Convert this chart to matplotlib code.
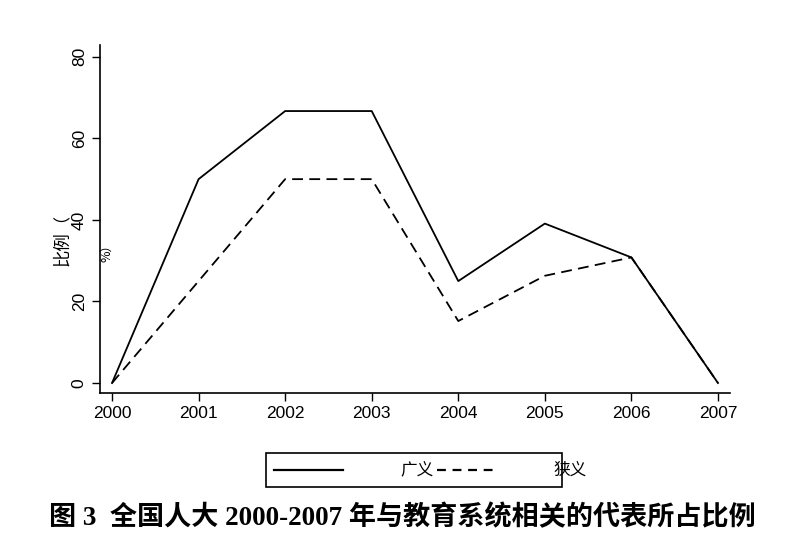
import matplotlib.pyplot as plt
from matplotlib.lines import Line2D
from matplotlib.patches import Rectangle

# 数据
years = [2000, 2001, 2002, 2003, 2004, 2005, 2006, 2007]
broad = [0, 50, 66.7, 66.7, 25, 39.1, 30.8, 0]      # 广义
narrow = [0, 25, 50, 50, 15.2, 26.3, 30.8, 0]       # 狭义
y_ticks = [0, 20, 40, 60, 80]

cjk = ['Noto Sans CJK SC', 'DejaVu Sans']
W, H = 804, 560

fig = plt.figure(figsize=(8.04, 5.6), dpi=100)
ax = fig.add_axes([100 / W, (H - 393) / H, 630 / W, 348 / H])

ax.plot(years, broad, color='black', linewidth=1.3)
ax.plot(years, narrow, color='black', linewidth=1.3, linestyle=(0, (6, 3.5)))

ax.set_xlim(1999.861, 2007.139)
ax.set_ylim(-2.45, 82.9)
ax.set_xticks(years)
ax.set_yticks(y_ticks)
ax.tick_params(axis='both', direction='out', length=6, width=1, labelsize=12.5)
for lab in ax.get_xticklabels():
    lab.set_family('Liberation Sans')
for lab in ax.get_yticklabels():
    lab.set_family('Liberation Sans')
    lab.set_rotation(90)
    lab.set_va('center')
for s in ['top', 'right']:
    ax.spines[s].set_visible(False)
for s in ['left', 'bottom']:
    ax.spines[s].set_linewidth(1.2)

# y 轴标题（原图中被拆成两段）
fig.text(62 / W, 1 - 240 / H, '比例（', rotation=90, ha='center', va='center',
         fontsize=12.5, family=cjk)
fig.text(107 / W, 1 - 250 / H, '%）', rotation=90, ha='center', va='center',
         fontsize=9, family=cjk)

# 图例（手工绘制）
fig.add_artist(Rectangle((266 / W, 1 - 487 / H), 296 / W, 34 / H, transform=fig.transFigure,
                         fill=False, edgecolor='black', linewidth=1.2))
fig.add_artist(Line2D([274 / W, 343 / W], [1 - 470 / H] * 2, transform=fig.transFigure,
                      color='black', linewidth=1.6))
fig.text(400 / W, 1 - 470 / H, '广义', ha='left', va='center', fontsize=12, family=cjk)
fig.add_artist(Line2D([437 / W, 497 / W], [1 - 470 / H] * 2, transform=fig.transFigure,
                      color='black', linewidth=1.6, linestyle=(0, (4, 3))))
fig.text(553 / W, 1 - 470 / H, '狭义', ha='left', va='center', fontsize=12, family=cjk)

fig.text(0.5, 1 - 518 / H, '图 3  全国人大 2000-2007 年与教育系统相关的代表所占比例',
         ha='center', va='center', fontsize=19.5, fontweight='bold',
         family=['Liberation Serif', 'Noto Sans CJK SC'])

fig.savefig('out.png', dpi=100)
